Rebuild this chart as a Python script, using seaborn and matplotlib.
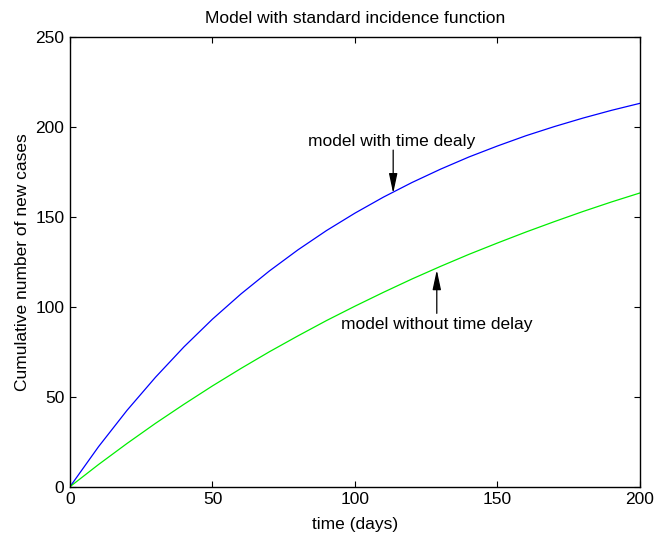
import numpy as np
import pandas as pd
import seaborn as sns
import matplotlib.pyplot as plt

# Data (days, cumulative new cases)
days = [0, 10, 20, 30, 40, 50, 60, 70, 80, 90, 100,
        110, 120, 130, 140, 150, 160, 170, 180, 190, 200]
with_delay = [0, 22.2, 42.4, 60.8, 77.7, 93.1, 107.1, 119.9, 131.6, 142.3, 152.0,
              160.9, 169.0, 176.4, 183.2, 189.3, 195.0, 200.1, 204.8, 209.1, 213.0]
without_delay = [0, 12.3, 24.0, 35.2, 45.8, 56.0, 65.7, 75.0, 83.8, 92.3, 100.3,
                 108.0, 115.4, 122.4, 129.1, 135.4, 141.5, 147.3, 152.9, 158.2, 163.2]

df = pd.DataFrame({
    "days": days * 2,
    "cases": with_delay + without_delay,
    "model": ["with delay"] * len(days) + ["without delay"] * len(days),
})

sns.set_style("ticks")
plt.rcParams["font.family"] = ["Liberation Sans", "DejaVu Sans"]
plt.rcParams["text.color"] = "black"
plt.rcParams["axes.labelcolor"] = "black"
plt.rcParams["xtick.color"] = "black"
plt.rcParams["ytick.color"] = "black"

fig = plt.figure(figsize=(6.56, 5.36), dpi=100)
ax = fig.add_axes([0.1067, 0.092, 0.8689, 0.8395])

sns.lineplot(data=df, x="days", y="cases", hue="model",
             palette={"with delay": "#0000ff", "without delay": "#00ee00"},
             linewidth=0.9, legend=False, ax=ax)

ax.set_xlim(0, 200)
ax.set_ylim(0, 250)
ax.set_xticks([0, 50, 100, 150, 200])
ax.set_yticks([0, 50, 100, 150, 200, 250])
ax.tick_params(direction="in", top=True, right=True, length=4,
               width=0.8, labelsize=12.5, pad=4)
for s in ax.spines.values():
    s.set_linewidth(1.0)
    s.set_color("black")

ax.set_title("Model with standard incidence function", fontsize=12.5, pad=10)
ax.set_xlabel("time (days)", fontsize=12.5, labelpad=7)
ax.set_ylabel("Cumulative number of new cases", fontsize=12.5)

# Annotations (arrows pointing at the curves)
arrow = dict(arrowstyle="-|>,head_length=0.75,head_width=0.16", color="black",
             lw=0.9, mutation_scale=16, shrinkA=0, shrinkB=0)
ax.text(113, 189.5, "model with time dealy", ha="center", va="baseline", fontsize=12.5)
ax.annotate("", xy=(113.4, 163), xytext=(113.4, 187), arrowprops=arrow)
ax.text(128.8, 87.6, "model without time delay", ha="center", va="baseline", fontsize=12.5)
ax.annotate("", xy=(128.7, 120.4), xytext=(128.7, 96.3), arrowprops=arrow)

fig.savefig("out.png", dpi=100)
